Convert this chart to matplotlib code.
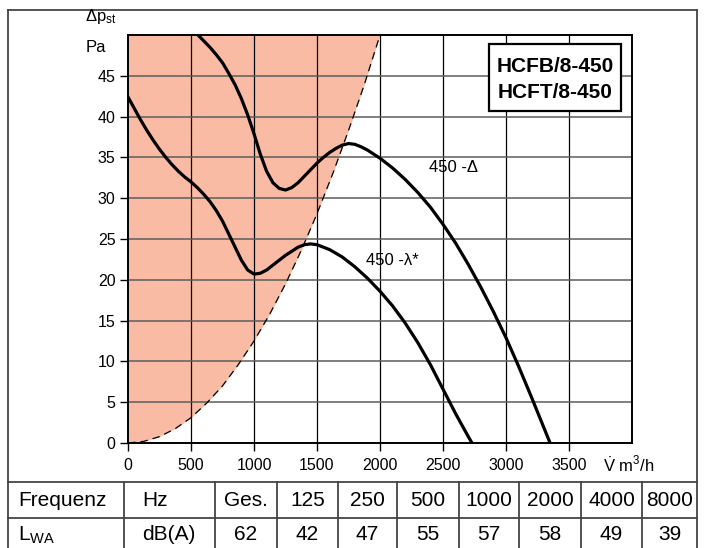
import matplotlib.pyplot as plt
from matplotlib.lines import Line2D
from matplotlib.patches import Rectangle

plt.rcParams['font.family'] = ['Liberation Sans', 'DejaVu Sans']
plt.rcParams['mathtext.fontset'] = 'custom'
plt.rcParams['mathtext.rm'] = 'Liberation Sans'
plt.rcParams['mathtext.it'] = 'Liberation Sans:italic'
plt.rcParams['mathtext.bf'] = 'Liberation Sans:bold'

W, H = 705, 548

# Kennlinie 450 -λ* (m3/h, Pa)
flow_lam = [0, 50, 100, 150, 200, 250, 300, 350, 400, 450, 500, 550, 600, 650, 700, 750,
            800, 850, 900, 950, 1000, 1050, 1100, 1150, 1200, 1250, 1300, 1350, 1400,
            1450, 1500, 1550, 1600, 1700, 1800, 1900, 2000, 2100, 2200, 2300, 2400,
            2500, 2600, 2700, 2730]
dp_lam = [42.4, 41.0, 39.6, 38.3, 37.1, 36.0, 35.0, 34.1, 33.3, 32.6, 32.0, 31.3, 30.5,
          29.6, 28.5, 27.2, 25.6, 24.0, 22.4, 21.2, 20.7, 20.8, 21.2, 21.8, 22.4, 23.0,
          23.5, 24.0, 24.3, 24.4, 24.3, 24.0, 23.7, 22.8, 21.6, 20.2, 18.6, 16.8, 14.7,
          12.3, 9.6, 6.6, 3.6, 0.8, 0.0]

# Kennlinie 450 -Δ
flow_delta = [555, 600, 650, 700, 750, 800, 850, 900, 950, 1000, 1050, 1100, 1150, 1200,
              1250, 1300, 1350, 1400, 1450, 1500, 1550, 1600, 1650, 1700, 1750, 1800,
              1850, 1900, 1950, 2000, 2100, 2200, 2300, 2400, 2500, 2600, 2700, 2800,
              2900, 3000, 3100, 3200, 3300, 3350]
dp_delta = [50.0, 49.3, 48.5, 47.6, 46.6, 45.3, 43.9, 42.2, 40.2, 37.9, 35.4, 33.3, 31.9,
            31.2, 31.0, 31.3, 31.9, 32.7, 33.5, 34.3, 35.0, 35.6, 36.1, 36.5, 36.7, 36.6,
            36.3, 35.9, 35.4, 34.9, 33.7, 32.3, 30.7, 28.9, 26.8, 24.5, 21.9, 19.1,
            16.1, 12.9, 9.4, 5.7, 1.9, 0.0]

# Grenze des Bereichs (gestrichelt)
flow_limit = [0, 125, 250, 375, 500, 625, 750, 875, 1000, 1125, 1250, 1375, 1500,
              1625, 1750, 1875, 2000]
dp_limit = [0.0, 0.2, 0.78, 1.76, 3.1, 4.9, 7.0, 9.6, 12.5, 15.8, 19.5, 23.6, 28.1,
            33.0, 38.3, 43.9, 50.0]

models = ['HCFB/8-450', 'HCFT/8-450']
row_freq = ['Frequenz', 'Hz', 'Ges.', '125', '250', '500', '1000', '2000', '4000', '8000']
row_lwa = [r'L$_{\mathrm{WA}}$', 'dB(A)', '62', '42', '47', '55', '57', '58', '49', '39']


def px(x, y):
    return x / W, 1 - y / H


fig = plt.figure(figsize=(W / 100, H / 100), dpi=100)
ax = fig.add_axes([128 / W, 1 - 443 / H, 504 / W, 408 / H])

ax.fill_between(flow_limit, dp_limit, 50, color='#f9bba3', lw=0, zorder=0)
for x in range(500, 4000, 500):
    ax.axvline(x, color='black', lw=0.9, zorder=1)
for y in range(5, 50, 5):
    ax.axhline(y, color='#5c5c5c', lw=1.1, zorder=1)
ax.plot(flow_limit, dp_limit, color='black', lw=0.9, ls=(0, (6, 4)), zorder=2)

ax.plot(flow_delta, dp_delta, color='black', lw=2.3, solid_joinstyle='round', zorder=3)
ax.plot(flow_lam, dp_lam, color='black', lw=2.3, solid_joinstyle='round', zorder=3)

ax.text(2779, 33.8, '450 -Δ', ha='right', va='center', fontsize=12)
ax.text(1889, 22.4, '450 -λ*', ha='left', va='center', fontsize=12)

ax.set_xlim(0, 4000)
ax.set_ylim(0, 50)
ax.set_xticks(range(0, 4000, 500))
ax.set_yticks(range(0, 50, 5))
ax.tick_params(direction='out', length=6, width=1, labelsize=11.5, pad=3)
ax.tick_params(axis='x', pad=5)
for s in ax.spines.values():
    s.set_linewidth(1.4)

# Achsentitel
fig.text(*px(101, 16), r'Δp$_{\mathrm{st}}$', ha='center', va='center', fontsize=12)
fig.text(*px(96, 47), 'Pa', ha='center', va='center', fontsize=12)
fig.text(*px(629, 465), r'$\dot{\mathrm{V}}$ m$^3$/h', ha='center', va='center', fontsize=12)

# Typenbox
x0, y0 = px(489, 111)
x1, y1 = px(621, 44)
fig.add_artist(Rectangle((x0, y0), x1 - x0, y1 - y0, transform=fig.transFigure,
                         facecolor='white', edgecolor='black', lw=1.6, zorder=5))
for i, m in enumerate(models):
    fig.text(*px(555, 66 + 27 * i), m, ha='center', va='center', fontsize=15,
             fontweight='bold', zorder=6)

# Rahmen und Tabelle
frame = '#444444'


def hline(y, xa, xb):
    fig.add_artist(Line2D([xa / W, xb / W], [1 - y / H, 1 - y / H], color=frame, lw=1.3,
                          transform=fig.transFigure))


def vline(x, ya, yb):
    fig.add_artist(Line2D([x / W, x / W], [1 - ya / H, 1 - yb / H], color=frame, lw=1.3,
                          transform=fig.transFigure))


hline(10, 8, 697)
vline(8, 10, 548)
vline(697, 10, 548)
hline(482, 8, 697)
hline(518, 8, 697)

cols = [8, 124, 215, 277, 338, 397, 459, 519, 581, 642, 697]
for c in cols[1:-1]:
    vline(c, 482, 548)

for row, yc in ((row_freq, 500), (row_lwa, 535)):
    for i, t in enumerate(row):
        if i == 0:
            fig.text(*px(18, yc), t, ha='left', va='center', fontsize=15)
        elif i == 1:
            fig.text(*px(142, yc), t, ha='left', va='center', fontsize=15)
        else:
            fig.text(*px((cols[i] + cols[i + 1]) / 2, yc), t, ha='center', va='center',
                     fontsize=15)

fig.savefig('out.png', dpi=100)
